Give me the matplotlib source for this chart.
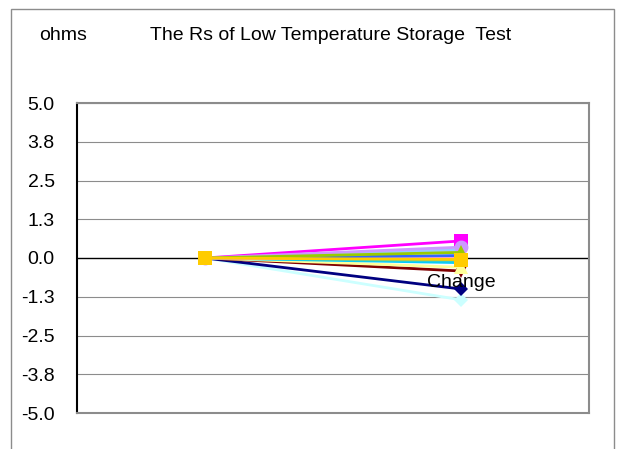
import matplotlib
matplotlib.use("Agg")
import matplotlib.pyplot as plt
from matplotlib.patches import Rectangle

plt.rcParams['font.family'] = ['Liberation Sans', 'DejaVu Sans']

# Test stages on the x axis
categories = ["Initial", "Change"]

# Change in Rs (ohms) per sample: start value, end value (drawn in this order)
series_colors = ["#CCFFFF", "#000080", "#800000", "#FFFF99", "#00CCFF", "#33CCCC",
                 "#FFCC99", "#FF99CC", "#3366FF", "#C0C0C0", "#99CCFF",
                 "#FF00FF", "#CC99FF", "#99CC00", "#FFCC00"]
series_markers = ["D", "D", "v", "^", None, None,
                  None, None, None, None, None,
                  "s", "o", "^", "s"]
start_values = [0.0] * 15
end_values = [-1.35, -1.0, -0.42, -0.3, -0.15, -0.1,
              -0.02, 0.0, 0.08, 0.22, 0.27,
              0.55, 0.35, 0.18, -0.05]

y_ticks = [-5.0, -3.75, -2.5, -1.25, 0.0, 1.25, 2.5, 3.75, 5.0]
y_tick_labels = ["-5.0", "-3.8", "-2.5", "-1.3", "0.0", "1.3", "2.5", "3.8", "5.0"]

FS = 14

fig = plt.figure(figsize=(6.18, 4.49), dpi=100)

# outer chart frame
fig.patches.append(Rectangle((11 / 618, -0.05), 603 / 618, 1 - 9 / 449 + 0.05,
                             transform=fig.transFigure, fill=False,
                             edgecolor="#8c8c8c", linewidth=1.0))

ax = fig.add_axes([77 / 618, 1 - 413 / 449, 512 / 618, 310 / 449])

x = list(range(len(categories)))
for color, marker, s, e in zip(series_colors, series_markers, start_values, end_values):
    size = 7 if marker == "D" else 10
    ax.plot(x, [s, e], color=color, linewidth=2.0, marker=marker,
            markersize=size, markeredgewidth=0, zorder=3)
# first-point marker (all series coincide at the origin)
ax.plot([0], [start_values[-1]], marker="s", color="#FFCC00",
        markersize=10.5, markeredgewidth=0, zorder=4)

ax.set_xlim(-0.5, 1.5)
ax.set_ylim(-5.0, 5.0)
ax.set_yticks(y_ticks)
ax.set_yticklabels(y_tick_labels)
ax.set_xticks([])
ax.tick_params(axis="y", length=0, pad=16, labelsize=FS)

for yv in y_ticks:
    if yv == 0.0:
        ax.axhline(yv, color="black", linewidth=1.0, zorder=2)
    else:
        ax.axhline(yv, color="#8c8c8c", linewidth=0.8, zorder=1)

for side in ["top", "right", "bottom"]:
    ax.spines[side].set_color("#8c8c8c")
    ax.spines[side].set_linewidth(1.5)
ax.spines["left"].set_color("black")
ax.spines["left"].set_linewidth(1.5)

ax.text(1, -0.8, categories[1], ha="center", va="center", fontsize=FS, zorder=5)

fig.text(63 / 618, 1 - 36 / 449, "ohms", ha="center", va="center", fontsize=FS)
fig.text(331 / 618, 1 - 36 / 449, "The Rs of Low Temperature Storage  Test",
         ha="center", va="center", fontsize=FS)

fig.savefig("out.png", dpi=100)
